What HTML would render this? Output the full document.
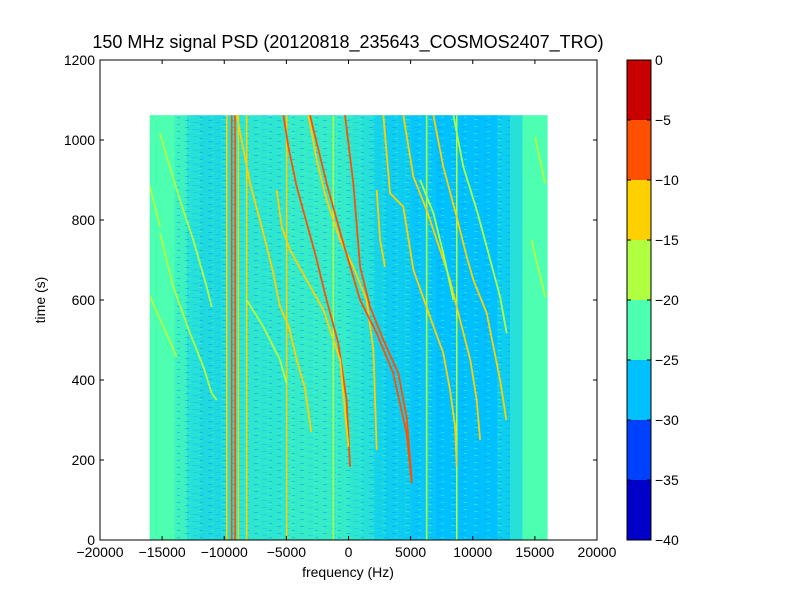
<!DOCTYPE html>
<html><head><meta charset="utf-8"><style>
body{margin:0;background:#fff;}
svg{display:block;font-family:"Liberation Sans","DejaVu Sans",sans-serif;}
</style></head><body>
<svg id="chart" width="800" height="600" viewBox="0 0 800 600">
<defs>
<pattern id="speck" width="23" height="7" patternUnits="userSpaceOnUse">
<rect x="1" y="1" width="4" height="1" fill="#0090ff"/>
<rect x="9" y="3" width="5" height="1" fill="#00c0ff"/>
<rect x="16" y="5" width="3" height="1" fill="#0090ff"/>
<rect x="4" y="5" width="3" height="1" fill="#4dffb0"/>
<rect x="14" y="0" width="4" height="1" fill="#4dffb0"/>
</pattern>
</defs>
<rect width="800" height="600" fill="#fff"/>
<text x="348" y="48" font-size="18" text-anchor="middle">150 MHz signal PSD (20120818_235643_COSMOS2407_TRO)</text>
<clipPath id="pc"><rect x="100" y="60" width="497" height="480"/></clipPath>
<g id="heat" clip-path="url(#pc)"></g>
<g id="tracks" clip-path="url(#pc)"></g>
<rect x="100" y="60" width="497" height="480" fill="none" stroke="#000" stroke-width="1"/>
<g id="axes"></g>
<text x="348" y="577" font-size="14" text-anchor="middle">frequency (Hz)</text>
<text transform="translate(45,300) rotate(-90)" font-size="14" text-anchor="middle">time (s)</text>
<g id="cbar"></g>
</svg>
<script>
const xTicks=[-20000,-15000,-10000,-5000,0,5000,10000,15000,20000];
const yTicks=[0,200,400,600,800,1000,1200];
const cbLevels=[-40,-35,-30,-25,-20,-15,-10,-5,0];
const cbColors=['#0000c8','#0040ff','#00c0ff','#4dffb0','#b0ff40','#ffd000','#ff5000','#c80000'];
const colStart=[-16000,-15000,-14000,-13000,-12000,-11000,-10000,-9000,-8000,-7000,-6000,-5000,-4000,-3000,-2000,-1000,0,1000,2000,3000,4000,5000,6000,7000,8000,9000,10000,11000,12000,13000,14000,15000];
const colPower=[-22,-22,-23,-24.5,-25,-25,-24.5,-24,-24,-24,-24,-23.5,-23.5,-23.5,-23.5,-23.5,-24,-24.5,-25.5,-26,-26,-26.5,-26.5,-27,-27,-27,-27,-27,-26,-24.5,-22,-22];
const tMax=1062;
const vLinesF=[-9800,-9400,-9130,-8870,-8190,-4980,-1220,6290,8710];
const vLinesP=[-12,-10,-9,-12,-15,-15,-16,-19,-18];
const tracks=[
 {p:-10,pts:[[-5240,1062],[-4840,983],[-4170,883],[-3500,808],[-2700,717],[-1760,600],[-820,492],[-150,350],[120,183]]},
 {p:-11,pts:[[-5780,875],[-5380,783],[-4710,725],[-3370,650],[-2020,575],[-680,450],[-10,233]]},
 {p:-14,pts:[[-3230,1062],[-2560,950],[-1760,850],[-680,750],[390,683],[1460,600],[2000,475],[2270,225]]},
 {p:-7,pts:[[-280,1062],[390,892],[930,683],[1730,583],[2810,500],[4010,417],[4680,308],[5090,150]]},
 {p:-9,pts:[[-3100,1062],[-1760,892],[-420,742],[930,600],[2270,517],[3600,417],[4680,267],[5090,142]]},
 {p:-11,pts:[[2810,1062],[3340,867],[4410,833],[5220,675],[6560,558],[7630,467],[8170,375],[8580,283],[8710,183]]},
 {p:-15,pts:[[2270,875],[2540,750],[2940,683]]},
 {p:-13,pts:[[4410,1062],[5220,908],[6290,825],[7370,725],[8170,650],[8710,583],[9800,450],[10320,350],[10590,250]]},
 {p:-15,pts:[[6830,1062],[7630,933],[8710,808],[9510,708],[10050,650],[11120,567],[12200,400],[12700,300]]},
 {p:-16,pts:[[8440,1062],[9240,933],[10320,825],[11120,733],[12200,608],[12730,517]]},
 {p:-16,pts:[[5760,900],[6830,817],[7630,717],[8440,600]]},
 {p:-16,pts:[[-15170,1017],[-14630,958],[-13560,850],[-12490,750],[-11410,633],[-11010,583]]},
 {p:-16,pts:[[-15970,883],[-15170,783]]},
 {p:-16,pts:[[-15170,767],[-14100,633],[-12760,517],[-11680,433],[-11010,367],[-10610,350]]},
 {p:-16,pts:[[-15970,608],[-14900,533],[-13830,458]]},
 {p:-16,pts:[[15010,1008],[15820,892]]},
 {p:-16,pts:[[14740,750],[15820,608]]},
 {p:-15,pts:[[-9000,1062],[-7930,892],[-6850,767],[-6050,667],[-5510,583],[-4800,533],[-4170,450],[-3500,380],[-3000,270]]},
 {p:-16,pts:[[-8190,600],[-6850,533],[-5510,450],[-4980,392]]}
];
const NS='http://www.w3.org/2000/svg';
const X0=100,X1=597,Y0=540,Y1=60;
const xs=f=>X0+(f+20000)/40000*(X1-X0);
const ys=t=>Y0-t/1200*(Y0-Y1);
function mk(tag,attrs,parent){const e=document.createElementNS(NS,tag);for(const k in attrs)e.setAttribute(k,attrs[k]);parent.appendChild(e);return e;}
function pColor(p){
  if(p<=-22.1){const a=Math.min(1,Math.max(0,(-22-p)/5));const g=[77,255,176],b=[0,192,255];
    const c=g.map((v,i)=>Math.round(v+(b[i]-v)*a));return 'rgb('+c.join(',')+')';}
  const i=Math.min(7,Math.max(0,Math.floor((p+40)/5)));return cbColors[i];
}
const heat=document.getElementById('heat');
colStart.forEach((f,i)=>{
  const r=mk('rect',{x:xs(f),y:ys(tMax),width:xs(f+1000)-xs(f)+0.3,height:ys(0)-ys(tMax),fill:pColor(colPower[i])},heat);
  
  
});
const sp=mk('rect',{x:xs(-14000),y:ys(tMax),width:xs(13000)-xs(-14000),height:ys(0)-ys(tMax),fill:'url(#speck)',opacity:0.45},heat);


const tg=document.getElementById('tracks');
vLinesF.forEach((f,i)=>{
  const l=mk('line',{x1:xs(f),x2:xs(f),y1:ys(0),y2:ys(tMax),stroke:pColor(vLinesP[i]),'stroke-width':1.6},tg);
  
  
});
tracks.forEach(tr=>{
  const d=tr.pts.map((p,j)=>(j?'L':'M')+xs(p[0]).toFixed(1)+','+ys(p[1]).toFixed(1)).join('');
  const pa=mk('path',{d:d,fill:'none',stroke:pColor(tr.p),'stroke-width':1.8,'stroke-linejoin':'round'},tg);
  
  
});
const ax=document.getElementById('axes');
xTicks.forEach(v=>{
  const x=xs(v);
  mk('line',{x1:x,x2:x,y1:540,y2:536,stroke:'#000'},ax);
  mk('line',{x1:x,x2:x,y1:60,y2:64,stroke:'#000'},ax);
  const t=mk('text',{x:x,y:557,'font-size':14,'text-anchor':'middle'},ax);
  t.textContent=(v<0?'\u2212':'')+Math.abs(v);
  
  
});
yTicks.forEach(v=>{
  const y=ys(v);
  mk('line',{x1:100,x2:104,y1:y,y2:y,stroke:'#000'},ax);
  mk('line',{x1:597,x2:593,y1:y,y2:y,stroke:'#000'},ax);
  const t=mk('text',{x:95,y:y+5,'font-size':14,'text-anchor':'end'},ax);
  t.textContent=v;
  
  
});
const cb=document.getElementById('cbar');
const cy=v=>540-(v+40)/40*480;
cbColors.forEach((c,i)=>{
  const r=mk('rect',{x:627,y:cy(cbLevels[i+1]),width:24,height:cy(cbLevels[i])-cy(cbLevels[i+1]),fill:c},cb);
  
  
});
mk('rect',{x:627,y:60,width:24,height:480,fill:'none',stroke:'#000'},cb);
cbLevels.forEach(v=>{
  const y=cy(v);
  mk('line',{x1:627,x2:631,y1:y,y2:y,stroke:'#000'},cb);
  mk('line',{x1:651,x2:647,y1:y,y2:y,stroke:'#000'},cb);
  const t=mk('text',{x:655,y:y+5,'font-size':14},cb);
  t.textContent=(v<0?'\u2212':'')+Math.abs(v);
  
  
});
</script>
</body></html>
